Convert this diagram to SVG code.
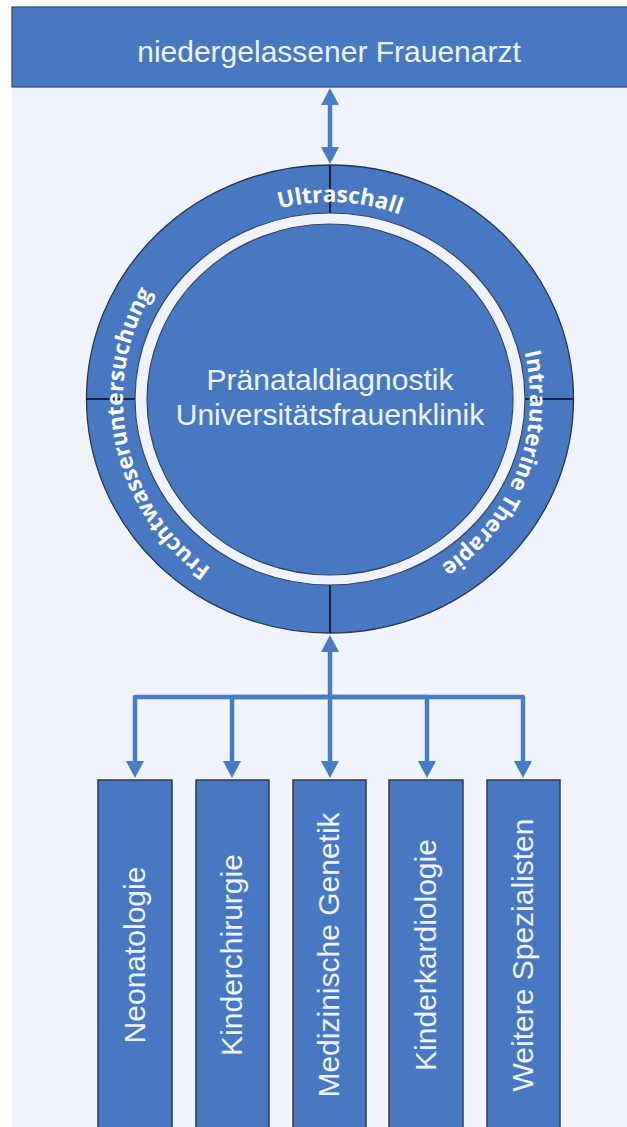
<svg xmlns="http://www.w3.org/2000/svg" width="627" height="1127" viewBox="0 0 627 1127">
<style>
.fill{fill:#4878c2}
.box{fill:#4878c2;stroke:#2e3a52;stroke-width:1.5}
.lbl{font-family:"Liberation Sans",Arial,sans-serif;font-size:30px;fill:#eef3fb}
.ring{font-family:"Open Sans","DejaVu Sans",sans-serif;font-size:22.5px;font-weight:bold;fill:#ffffff}
.div{stroke:#1b2438;stroke-width:2}
.con{fill:none;stroke:#4a7bc6;stroke-width:4.5;stroke-linejoin:round}
</style>
<defs>
<marker id="ah" markerUnits="userSpaceOnUse" markerWidth="18" markerHeight="18" viewBox="0 0 17 18" refX="4" refY="9" orient="auto-start-reverse">
<path d="M0,0 L17,9 L0,18 z" fill="#4a7bc6"/>
</marker>
<path id="pTop" d="M164.6,292.0 A197,197 0 0 1 505.4,309.3"/>
<path id="pRight" d="M486.3,274.2 A200,200 0 0 1 359.9,596.8"/>
<path id="pLeft" d="M266.0,595.9 A207,207 0 0 1 191.5,245.2"/>
</defs>
<rect x="0" y="0" width="627" height="1127" fill="#ffffff"/>
<rect x="12" y="7" width="620" height="1125" fill="#f0f4fa"/>

<g id="frauenarzt">
<rect x="12" y="7" width="620" height="80" class="fill" stroke="#34466a" stroke-width="1.2"/>
<text x="329" y="62" text-anchor="middle" class="lbl">niedergelassener Frauenarzt</text>
</g>

<g id="ring">
<ellipse cx="330" cy="399" rx="243.5" ry="234" class="fill" stroke="#2a3550" stroke-width="1.3"/>
<ellipse cx="330" cy="399" rx="195" ry="186" fill="#f0f4fa" stroke="#3a4660" stroke-width="1.2"/>
<line x1="330" y1="165" x2="330" y2="213" class="div"/>
<line x1="330" y1="585" x2="330" y2="633" class="div"/>
<line x1="86" y1="399" x2="135" y2="399" class="div"/>
<line x1="525" y1="399" x2="573" y2="399" class="div"/>
<text class="ring"><textPath href="#pTop" startOffset="50%" text-anchor="middle">Ultraschall</textPath></text>
<text class="ring"><textPath href="#pRight" startOffset="50%" text-anchor="middle">Intrauterine Therapie</textPath></text>
<text class="ring"><textPath href="#pLeft" startOffset="50%" text-anchor="middle">Fruchtwasseruntersuchung</textPath></text>
</g>

<g id="zentrum">
<ellipse cx="330" cy="399.5" rx="183" ry="175.5" class="fill" stroke="#3a4660" stroke-width="1.2"/>
<text x="330" y="390" text-anchor="middle" class="lbl">Pränataldiagnostik</text>
<text x="330" y="425" text-anchor="middle" class="lbl">Universitätsfrauenklinik</text>
</g>

<g id="connectors">
<path class="con" d="M330,101 V151" marker-start="url(#ah)" marker-end="url(#ah)"/>
<path class="con" d="M330,648 V697 H135 V765" marker-start="url(#ah)" marker-end="url(#ah)"/>
<path class="con" d="M330,697 H232 V765" marker-end="url(#ah)"/>
<path class="con" d="M330,697 V765" marker-end="url(#ah)"/>
<path class="con" d="M330,697 H427 V765" marker-end="url(#ah)"/>
<path class="con" d="M330,697 H523 V765" marker-end="url(#ah)"/>
</g>

<g id="neonatologie">
<rect x="98" y="780" width="74" height="360" class="box"/>
<text transform="translate(144.5,955) rotate(-90)" text-anchor="middle" class="lbl">Neonatologie</text>
</g>
<g id="kinderchirurgie">
<rect x="196" y="780" width="73" height="360" class="box"/>
<text transform="translate(242,955) rotate(-90)" text-anchor="middle" class="lbl">Kinderchirurgie</text>
</g>
<g id="genetik">
<rect x="293" y="780" width="73" height="360" class="box"/>
<text transform="translate(339,955) rotate(-90)" text-anchor="middle" class="lbl">Medizinische Genetik</text>
</g>
<g id="kinderkardiologie">
<rect x="389" y="780" width="74" height="360" class="box"/>
<text transform="translate(435.5,955) rotate(-90)" text-anchor="middle" class="lbl">Kinderkardiologie</text>
</g>
<g id="spezialisten">
<rect x="487" y="780" width="73" height="360" class="box"/>
<text transform="translate(533,955) rotate(-90)" text-anchor="middle" class="lbl">Weitere Spezialisten</text>
</g>
</svg>
